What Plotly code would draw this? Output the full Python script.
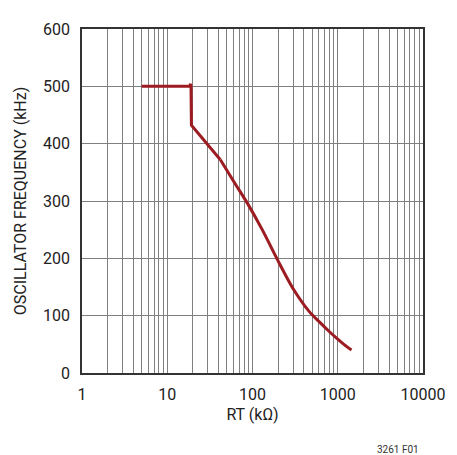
import plotly.graph_objects as go

# Data
rt_kohm = [5, 18.2, 18.8, 19.0, 19.2, 42, 62, 88, 130, 194, 300, 464, 600, 800,
           1000, 1200, 1450]
freq_khz = [500, 500, 504, 500, 432, 372, 331, 295, 250, 199, 147, 107, 90, 72,
            59, 49, 40]
KINK = 5  # index where the straight segment ends and the smooth curve begins

decades = [1, 10, 100, 1000]
x_tickvals = [m * d for d in decades for m in range(1, 10)] + [10000]
x_ticktext = [str(v) if v in (1, 10, 100, 1000, 10000) else "" for v in x_tickvals]
y_tickvals = [0, 100, 200, 300, 400, 500, 600]

FONT = "Roboto, Liberation Sans, sans-serif"
CURVE = "#9c1c22"

fig = go.Figure()
fig.add_trace(go.Scatter(
    x=rt_kohm[:KINK + 1], y=freq_khz[:KINK + 1], mode="lines",
    line=dict(color=CURVE, width=3),
    hoverinfo="skip", showlegend=False,
))
fig.add_trace(go.Scatter(
    x=rt_kohm[KINK:], y=freq_khz[KINK:], mode="lines",
    line=dict(color=CURVE, width=3, shape="spline", smoothing=0.8),
    hoverinfo="skip", showlegend=False,
))

# page body has an 8px margin, so the figure is offset by (8, 8) in the window
fig.update_layout(
    width=449, height=447,
    margin=dict(l=74, r=23, t=14, b=82),
    paper_bgcolor="white", plot_bgcolor="white",
    font=dict(family=FONT, size=16, color="#222"),
    xaxis=dict(
        type="log", range=[0, 4],
        tickvals=x_tickvals, ticktext=x_ticktext,
        showgrid=True, gridcolor="#808080", gridwidth=1,
        showline=True, linecolor="#333", linewidth=1.5, mirror=True,
        ticks="", ticklabelstandoff=6,
        title=dict(text="RT (kΩ)", font=dict(family=FONT, size=16), standoff=6),
        zeroline=False,
    ),
    yaxis=dict(
        range=[0, 600], tickvals=y_tickvals,
        showgrid=True, gridcolor="#808080", gridwidth=1,
        showline=True, linecolor="#333", linewidth=1.5, mirror=True,
        ticks="", ticklabelstandoff=7,
        title=dict(text="OSCILLATOR FREQUENCY (kHz)", font=dict(family=FONT, size=16), standoff=12),
        zeroline=False,
    ),
    annotations=[dict(
        text="3261 F01", xref="paper", yref="paper", x=0.994, y=-0.221,
        xanchor="right", yanchor="middle", showarrow=False,
        font=dict(family=FONT, size=10, color="#333"),
    )],
)

fig.write_html("out.html")
